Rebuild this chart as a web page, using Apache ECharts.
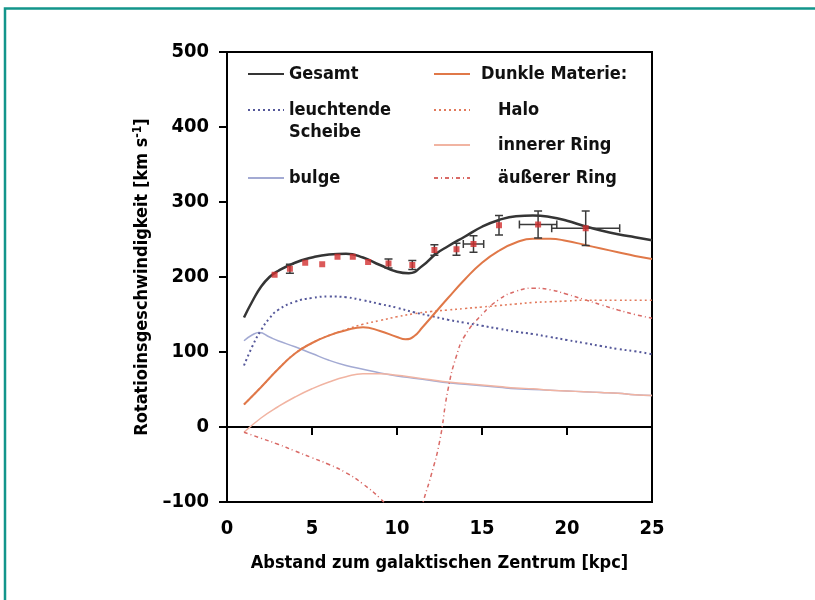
<!DOCTYPE html>
<html><head><meta charset="utf-8">
<script src="https://cdn.jsdelivr.net/npm/echarts@6/dist/echarts.min.js"></script>
<style>html,body{margin:0;padding:0;background:#fff}#c{width:815px;height:600px}</style>
</head><body><div id="c"></div>
<script>
// ---- data (radius in kpc, velocity in km/s) ----
const xTicks = [0, 5, 10, 15, 20, 25];
const yTicks = [-100, 0, 100, 200, 300, 400, 500];

const gesamtR = [1,1.5,2,2.5,3,4,5,6,7,8,9,10,10.7,11.5,12.3,13,14,15,16,17,18,19,20,21,22,23,24,25];
const gesamtV = [146,168,187,200,208,219,226,230,231,226,216,207,205,215,231,241,254,267,276,281,282,280,275,268,262,257,253,249];

const dunkelR = [1,2,3,4,5,6,7,8,9,10,10.5,11,11.5,12,13,14,15,16,17,18,19,20,21,22,23,24,25];
const dunkelV = [30,53,77,98,112,122,129,133,128,120,117,121,133,146,172,197,219,235,246,251,251,248,243,238,233,228,224];

const scheibeR = [1,1.5,2,2.5,3,4,5,6,7,8,9,10,11,12,13,14,15,16,17,18,19,20,21,22,23,24,25];
const scheibeV = [82,108,129,145,156,167,172,174,173,169,164,159,153,148,143,139,135,131,127,124,120,116,112,108,104,101,97];

const bulgeR = [1,1.5,1.9,2.5,3,4,5,6,7,8,9,10,11,12,13,14,15,16,17,18,19,20,21,22,23,24,25];
const bulgeV = [115,123,126,120,115,107,98,89,82,77,72,68,65,62,59,57,55,53,51,50,49,48,47,46,45,43,42];

const haloR = [1,2,3,4,5,6,7,8,9,10,11,12,13,14,15,16,17,18,19,20,21,22,23,24,25];
const haloV = [30,53,77,98,112,122,130,137,142,147,151,154,156,158,160,162,164,166,167,168,169,169,169,169,169];

const innenR = [1,2,3,4,5,6,7,8,9,10,11,12,13,14,15,16,17,18,19,20,21,22,23,24,25];
const innenV = [-7,12,27,40,51,60,67,71,71,69,66,63,60,58,56,54,52,51,49,48,47,46,45,43,42];

const aussenR = [1,2,3,4,5,6,7,8,9,9.5,10,10.8,11.3,11.6,12,12.5,13,13.5,14,15,16,17,18,19,20,21,22,23,24,25];
const aussenV = [-7,-15,-23,-32,-41,-50,-61,-76,-95,-108,-122,-135,-120,-95,-65,-20,50,95,122,150,170,181,185,183,177,170,163,156,150,145];

// observed points with error bars
const obsR    = [2.8,3.7,4.6,5.6,6.5,7.4,8.3,9.5,10.9,12.2,13.5,14.5,16.0,18.3,21.1];
const obsV    = [203,211,219,217,227,227,220,218,216,236,237,244,269,270,265];
const obsVErr = [0,6,0,0,0,0,0,6,6,7,8,11,13,18,23];
const obsRErr = [0,0,0,0,0,0,0,0,0,0,0,0.6,0,1.1,2.0];

// ---- chart ----
const FONT = '"Liberation Sans Narrow","DejaVu Sans Condensed",sans-serif';
const zip = (a, b) => a.map((x, i) => [x, b[i]]);

function lineSeries(name, rr, vv, color, width, type, z) {
  return {
    name, type: 'line', data: zip(rr, vv), symbol: 'none', showSymbol: false, smooth: 0.5,
    lineStyle: { color, width, type }, itemStyle: { color }, z: z || 2, silent: true
  };
}

const LEG_TEXT = { fontFamily: FONT, fontWeight: 'bold', fontSize: 18, lineHeight: 22, color: '#111' };
function legendItem(name, left, top, padLeft, extra) {
  return Object.assign({
    data: [name], left, top, padding: 0, itemWidth: 36, itemHeight: 12, selectedMode: false,
    itemStyle: { color: 'transparent', borderColor: 'transparent', borderWidth: 0 },
    textStyle: Object.assign({}, LEG_TEXT, { padding: [0, 0, 0, padLeft || 0] })
  }, extra || {});
}

const chart = echarts.init(document.getElementById('c'), null, { renderer: 'canvas' });
chart.setOption({
  animation: false,
  backgroundColor: '#fff',
  grid: { left: 227, right: 163, top: 52, bottom: 98, show: true, borderColor: '#000', borderWidth: 2 },
  xAxis: {
    type: 'value', min: xTicks[0], max: xTicks[xTicks.length - 1], interval: 5,
    axisLine: { lineStyle: { color: '#000', width: 2 } },
    axisTick: { show: true, length: 8, lineStyle: { color: '#000', width: 2 } },
    splitLine: { show: false },
    axisLabel: { margin: 17, color: '#000', fontFamily: FONT, fontWeight: 'bold', fontSize: 20 },
    name: 'Abstand zum galaktischen Zentrum [kpc]', nameLocation: 'middle', nameGap: 52,
    nameTextStyle: { color: '#000', fontFamily: FONT, fontWeight: 'bold', fontSize: 18 }
  },
  yAxis: {
    type: 'value', min: yTicks[0], max: yTicks[yTicks.length - 1], interval: 100,
    axisLine: { lineStyle: { color: '#000', width: 2 } },
    axisTick: { show: true, length: 8, lineStyle: { color: '#000', width: 2 } },
    splitLine: { show: false },
    axisLabel: { margin: 18, color: '#000', fontFamily: FONT, fontWeight: 'bold', fontSize: 20,
      formatter: v => String(v).replace('-', '\u2013') },
    name: 'Rotatioinsgeschwindigkeit [km s{sup|\u20111}]', nameLocation: 'middle', nameGap: 50,
    nameTextStyle: { color: '#000', fontFamily: FONT, fontWeight: 'bold', fontSize: 18,
      rich: { sup: { fontFamily: FONT, fontWeight: 'bold', fontSize: 12, color: '#000', verticalAlign: 'top', padding: [0, 0, 10, 0] } } }
  },
  legend: [
    legendItem('Gesamt', 247, 63),
    legendItem('leuchtende Scheibe', 247, 77, 0, { formatter: () => ' \nleuchtende\nScheibe' }),
    legendItem('bulge', 247, 167),
    legendItem('Dunkle Materie', 433, 63, 6, { formatter: () => 'Dunkle Materie:' }),
    legendItem('Halo', 433, 99, 23),
    legendItem('innerer Ring', 433, 134, 23),
    legendItem('äußerer Ring', 433, 167, 23)
  ],
  series: [
    lineSeries('bulge', bulgeR, bulgeV, '#a3aad3', 1.5, 'solid', 2),
    lineSeries('innerer Ring', innenR, innenV, '#f1b4a2', 1.5, 'solid', 2),
    lineSeries('äußerer Ring', aussenR, aussenV, '#d96a66', 1.5, [4, 3, 1, 3], 2),
    lineSeries('Halo', haloR, haloV, '#e27a5c', 1.6, [2, 3], 3),
    lineSeries('leuchtende Scheibe', scheibeR, scheibeV, '#55589a', 2, [2, 3], 3),
    lineSeries('Dunkle Materie', dunkelR, dunkelV, '#e07848', 2, 'solid', 4),
    lineSeries('Gesamt', gesamtR, gesamtV, '#353535', 2.5, 'solid', 5),
    {
      name: 'Fehler', type: 'custom', z: 6, silent: true,
      data: obsR.map((x, i) => [x, obsV[i], obsVErr[i], obsRErr[i]]),
      renderItem: function (params, api) {
        const x = api.value(0), y = api.value(1), ey = api.value(2), ex = api.value(3);
        const kids = [];
        const st = { stroke: '#3a3a3a', lineWidth: 1.5 };
        const cap = 4;
        if (ey > 0) {
          const a = api.coord([x, y - ey]), b = api.coord([x, y + ey]);
          kids.push({ type: 'line', shape: { x1: a[0], y1: a[1], x2: b[0], y2: b[1] }, style: st });
          kids.push({ type: 'line', shape: { x1: a[0] - cap, y1: a[1], x2: a[0] + cap, y2: a[1] }, style: st });
          kids.push({ type: 'line', shape: { x1: b[0] - cap, y1: b[1], x2: b[0] + cap, y2: b[1] }, style: st });
        }
        if (ex > 0) {
          const a = api.coord([x - ex, y]), b = api.coord([x + ex, y]);
          kids.push({ type: 'line', shape: { x1: a[0], y1: a[1], x2: b[0], y2: b[1] }, style: st });
          kids.push({ type: 'line', shape: { x1: a[0], y1: a[1] - cap, x2: a[0], y2: a[1] + cap }, style: st });
          kids.push({ type: 'line', shape: { x1: b[0], y1: b[1] - cap, x2: b[0], y2: b[1] + cap }, style: st });
        }
        return { type: 'group', children: kids };
      }
    },
    {
      name: 'Messwerte', type: 'scatter', z: 7, silent: true,
      data: zip(obsR, obsV), symbol: 'rect', symbolSize: 6,
      itemStyle: { color: '#d2302f' }
    }
  ],
  graphic: [
    { type: 'polyline', shape: { points: [[5, 600], [5, 8.5], [815, 8.5]] },
      style: { stroke: '#13958b', lineWidth: 2.5, fill: null }, silent: true }
  ]
});
</script></body></html>
